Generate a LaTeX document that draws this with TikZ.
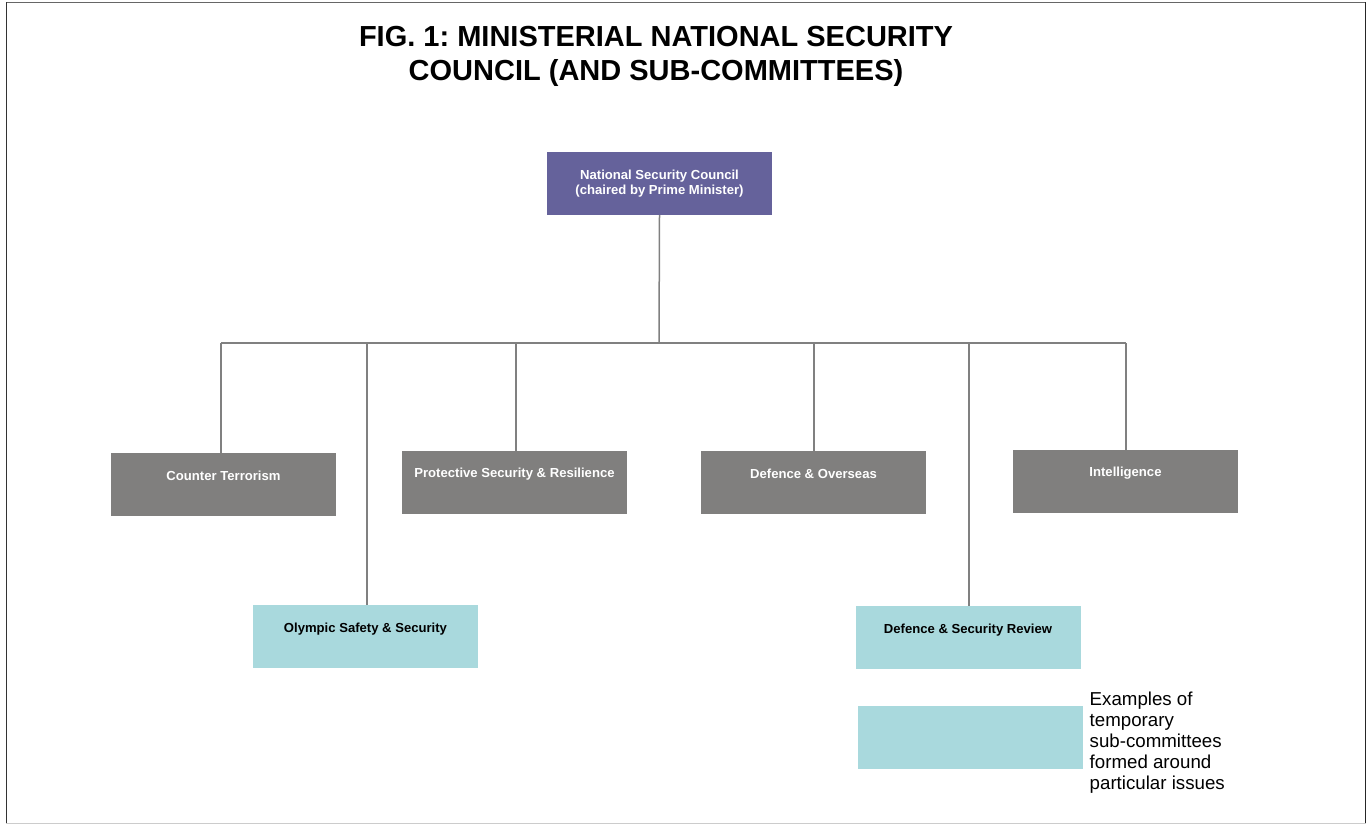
\documentclass[tikz,border=0pt]{standalone}
\usepackage{fontspec}
\setmainfont{Liberation Sans}
\frenchspacing
\definecolor{nscpurple}{RGB}{101,98,155}
\definecolor{subgrey}{RGB}{128,127,126}
\definecolor{tempcyan}{RGB}{169,217,221}
\definecolor{linegrey}{RGB}{128,128,128}
\tikzset{
  boxbase/.style={rectangle, draw=none, minimum width=225pt, minimum height=63pt, inner sep=0pt},
  topbox/.style={boxbase, fill=nscpurple},
  greybox/.style={boxbase, fill=subgrey},
  cyanbox/.style={boxbase, fill=tempcyan},
  whitetext/.style={text=white, font=\bfseries\fontsize{13.1}{15}\selectfont, align=center, inner sep=0pt},
  blacktext/.style={text=black, font=\bfseries\fontsize{13.1}{15}\selectfont, align=center, inner sep=0pt},
  conn/.style={draw=linegrey, line width=1.5pt},
}
\begin{document}
\begin{tikzpicture}[x=1pt,y=-1pt]
\useasboundingbox (0,0) rectangle (1367,825);
% frame
\draw[line width=1.5pt, draw=black!60] (6,2.5) -- (1366,2.5);
\draw[line width=1.5pt, draw=black!80] (6.5,2) -- (6.5,824);
\draw[line width=1.5pt, draw=black!85] (1365.5,2) -- (1365.5,824);
\draw[line width=1.5pt, draw=black!20] (6,823.5) -- (1366,823.5);
% title
\node[font=\bfseries\fontsize{29}{34}\selectfont, align=center, inner sep=0pt] (title) at (656,56) {FIG. 1: MINISTERIAL NATIONAL SECURITY\\COUNCIL (AND SUB-COMMITTEES)};
% boxes
\node[topbox] (nsc) at (659.5,183.5) {};
\node[whitetext] (nsct) at ([yshift=-32pt]nsc.north) {National Security Council\\(chaired by Prime Minister)};
\node[greybox] (ct) at (223.5,484.5) {};
\node[whitetext] (ctt) at ([yshift=-23pt]ct.north) {Counter Terrorism};
\node[greybox] (psr) at (514.5,482.5) {};
\node[whitetext] (psrt) at ([yshift=-23pt]psr.north) {Protective Security \& Resilience};
\node[greybox] (dov) at (813.5,482.5) {};
\node[whitetext] (dovt) at ([yshift=-23pt]dov.north) {Defence \& Overseas};
\node[greybox] (intel) at (1125.5,481.5) {};
\node[whitetext] (intelt) at ([yshift=-23pt]intel.north) {Intelligence};
\node[cyanbox] (oly) at (365.5,636.5) {};
\node[blacktext] (olyt) at ([yshift=-24pt]oly.north) {Olympic Safety \& Security};
\node[cyanbox] (dsr) at (968,637.5) {};
\node[blacktext] (dsrt) at ([yshift=-24pt]dsr.north) {Defence \& Security Review};
% legend
\node[cyanbox] (leg) at (970,737.5) {};
\node[anchor=north west, align=left, inner sep=0pt, font=\fontsize{18.7}{21}\selectfont] (legt) at (1089.5,692) {Examples of\\temporary\\sub-committees\\formed around\\particular issues};
% bus coordinates
\coordinate (bus) at (659,343);
\coordinate (bCT) at (221,343);
\coordinate (bOLY) at (367,343);
\coordinate (bPSR) at (516,343);
\coordinate (bDOV) at (814,343);
\coordinate (bDSR) at (969,343);
\coordinate (bINT) at (1126,343);
% connectors
\draw[conn] (nsc.south) -- (bus);
\draw[conn] (bCT) -- (bINT);
\draw[conn] (bCT) -- (bCT |- ct.north);
\draw[conn] (bOLY) -- (bOLY |- oly.north);
\draw[conn] (bPSR) -- (bPSR |- psr.north);
\draw[conn] (bDOV) -- (bDOV |- dov.north);
\draw[conn] (bDSR) -- (bDSR |- dsr.north);
\draw[conn] (bINT) -- (bINT |- intel.north);
\end{tikzpicture}
\end{document}
